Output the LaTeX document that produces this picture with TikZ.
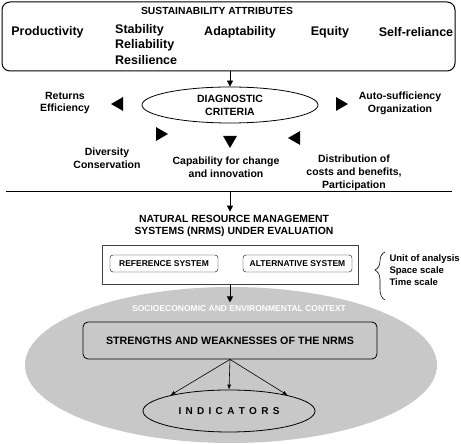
\documentclass[tikz,border=0pt]{standalone}
\usepackage{fontspec}
\setmainfont{Liberation Sans}
\usepackage{tikz}
\usetikzlibrary{positioning,arrows.meta,shapes.geometric,decorations.pathreplacing}
\definecolor{ctxGray}{HTML}{C8C8C8}

\begin{document}
\begin{tikzpicture}[x=1pt,y=1pt,
    attr/.style={font=\fontsize{12.5}{15.5}\selectfont\bfseries},
    crit/.style={font=\fontsize{10.5}{12.8}\selectfont\bfseries, align=center},
    wedge/.style={regular polygon, regular polygon sides=3, fill=black, inner sep=0pt, minimum size=16pt},
    sysbox/.style={draw, rounded corners=3pt, minimum width=108pt, minimum height=17pt, font=\fontsize{8.5}{10}\selectfont\bfseries},
    arr/.style={-{Triangle[length=6pt,width=6pt]}, line width=0.8pt},
    thinarr/.style={-{Latex[length=5pt,width=4pt]}, line width=0.6pt}
  ]
  \useasboundingbox (0,0) rectangle (461,444);

  % Attributes
  \node[draw, rounded corners=8pt, line width=1pt, minimum width=453pt, minimum height=69pt] (attrs) at (228.5,407.5) {};
  \node[font=\fontsize{10.3}{12}\selectfont\bfseries] (title) at (217,433) {SUSTAINABILITY ATTRIBUTES};
  \node[attr] (prod) at (47.5,412) {Productivity};
  \node[attr, align=left, anchor=west, inner sep=0pt] (stab) at (115,399.5) {Stability\\Reliability\\Resilience};
  \node[attr] (adap) at (240,412) {Adaptability};
  \node[attr] (equi) at (330,412) {Equity};
  \node[attr] (self) at (416,412) {Self-reliance};

  % Criteria
  \node[draw, ellipse, line width=0.8pt, minimum width=176pt, minimum height=36pt, inner sep=0pt, crit] (diag) at (230,339) {DIAGNOSTIC\\CRITERIA};
  \draw[arr] (diag.north |- attrs.south) -- (diag.north);

  \node[wedge, rotate=90] (wl) at (119,340) {};
  \node[wedge, rotate=-90] (wr) at (340,340) {};
  \node[wedge, rotate=-90] (wdl) at (160,310) {};
  \node[wedge, rotate=180] (wd) at (230,304) {};
  \node[wedge, rotate=90] (wdr) at (296,306) {};

  \node[crit] (ret) at (65,341) {Returns\\Efficiency};
  \node[crit] (auto) at (400,341) {Auto-sufficiency\\Organization};
  \node[crit] (div) at (107,286) {Diversity\\Conservation};
  \node[crit] (cap) at (226,277) {Capability for change\\and innovation};
  \node[crit] (dist) at (354,271) {Distribution of\\costs and benefits,\\Participation};

  \coordinate (sepL) at (6,252);
  \coordinate (sepM) at (230,252);
  \coordinate (sepR) at (452,252);
  \draw[line width=1pt] (sepL) -- (sepR);

  % Systems under evaluation
  \node[font=\fontsize{10.4}{12.2}\selectfont\bfseries, align=center] (head) at (234,218) {NATURAL RESOURCE MANAGEMENT\\SYSTEMS (NRMS) UNDER EVALUATION};
  \draw[arr] (sepM) -- (sepM |- head.north);

  \node[draw=black!75, line width=0.8pt, minimum width=256pt, minimum height=39pt] (nrms) at (230,179.5) {};
  \node[sysbox] (ref) at (164,180.5) {REFERENCE SYSTEM};
  \node[sysbox, minimum width=109pt] (alt) at (297.5,180.5) {ALTERNATIVE SYSTEM};

  \coordinate (braceB) at (385,144);
  \coordinate (braceT) at (385,192);
  \draw[decorate, decoration={brace, amplitude=10pt, aspect=0.625}, line width=0.6pt] (braceB) -- (braceT);
  \node[anchor=west, align=left, font=\fontsize{9.5}{12}\selectfont\bfseries] (scale) at (386,174) {Unit of analysis\\Space scale\\Time scale};

  % Context
  \node[ellipse, fill=ctxGray, minimum width=412pt, minimum height=156pt] (ctx) at (231,79) {};
  \node[text=white, font=\fontsize{8.5}{10}\selectfont\bfseries] (ctxlab) at (239,135) {SOCIOECONOMIC AND ENVIRONMENTAL CONTEXT};
  \draw[arr] (nrms.south) -- (nrms.south |- ctxlab.north);

  \node[draw, rounded corners=5pt, fill=ctxGray, line width=0.8pt, minimum width=294pt, minimum height=37pt, font=\fontsize{10.7}{12}\selectfont\bfseries] (sw) at (230,103.5) {STRENGTHS AND WEAKNESSES OF THE NRMS};
  \node[draw, ellipse, line width=0.8pt, minimum width=172pt, minimum height=42pt, font=\fontsize{10}{12}\selectfont\bfseries] (ind) at (229,33) {\spaceskip=4.3pt\relax I N D I C A T O R S};
  \foreach \a in {165,90,15}
    \draw[thinarr] (sw.south) -- (ind.\a);
\end{tikzpicture}
\end{document}
